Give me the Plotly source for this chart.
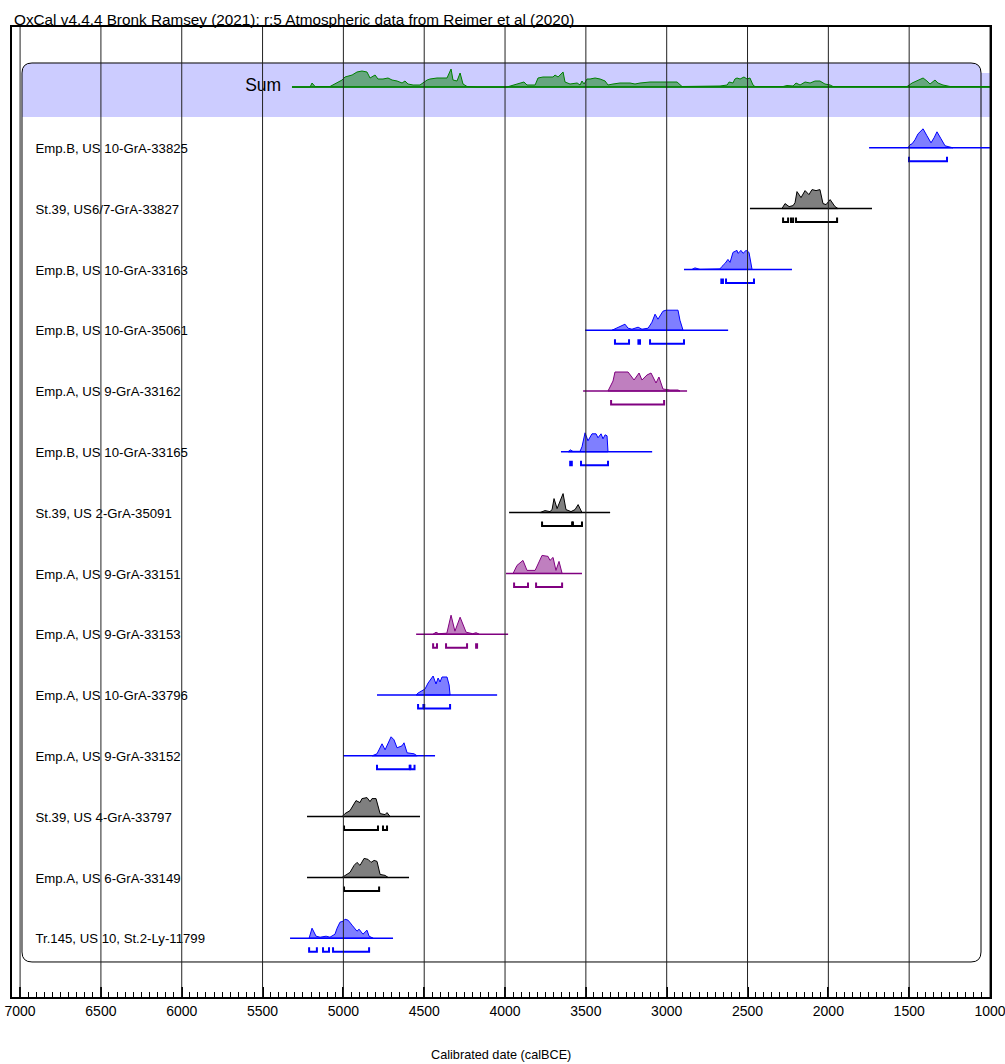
import plotly.graph_objects as go

# ---------------- text ----------------
TITLE = "OxCal v4.4.4 Bronk Ramsey (2021); r:5 Atmospheric data from Reimer et al (2020)"
X_TITLE = "Calibrated date (calBCE)"
TICKS = [7000, 6500, 6000, 5500, 5000, 4500, 4000, 3500, 3000, 2500, 2000, 1500, 1000]
TICK_TEXT = [str(t) for t in TICKS]

LABELS = [
    "Emp.B, US 10-GrA-33825", "St.39, US6/7-GrA-33827", "Emp.B, US 10-GrA-33163",
    "Emp.B, US 10-GrA-35061", "Emp.A, US 9-GrA-33162", "Emp.B, US 10-GrA-33165",
    "St.39, US 2-GrA-35091", "Emp.A, US 9-GrA-33151", "Emp.A, US 9-GrA-33153",
    "Emp.A, US 10-GrA-33796", "Emp.A, US 9-GrA-33152", "St.39, US 4-GrA-33797",
    "Emp.A, US 6-GrA-33149", "Tr.145, US 10, St.2-Ly-11799",
]
COLOR_KEYS = ["blue", "black", "blue", "blue", "purple", "blue", "black",
              "purple", "purple", "blue", "blue", "black", "black", "blue"]

# ---------------- data (calBCE years, relative probability) ----------------
sum_years = [5318, 5206, 5194, 5175, 5083, 5033, 5008, 4990, 4946, 4916, 4885, 4854, 4835, 4804, 4786,
             4755, 4724, 4699, 4668, 4637, 4619, 4600, 4569, 4526, 4507, 4482, 4464, 4421, 4359, 4334,
             4322, 4297, 4278, 4260, 4235, 4173, 3988, 3950, 3907, 3883, 3864, 3814, 3796, 3765, 3703,
             3691, 3672, 3641, 3629, 3598, 3554, 3536, 3524, 3511, 3493, 3474, 3443, 3412, 3381, 3363,
             3332, 3289, 3227, 3196, 3165, 3103, 3041, 2936, 2905, 2750, 2670, 2626, 2614, 2590, 2578,
             2565, 2546, 2522, 2503, 2485, 2466, 2454, 2280, 2256, 2218, 2200, 2175, 2144, 2113, 2082,
             2052, 2021, 1989, 1971, 1513, 1482, 1451, 1414, 1390, 1371, 1340, 1322, 1291, 1247, 1000]
sum_prob = [0, 0, 4, 0.5, 0.5, 5, 7, 10, 12, 15, 16, 15, 9, 12, 8,
            8, 9, 7, 6, 4, 6, 3, 2, 2, 4, 7, 8, 9, 9, 18,
            7, 6, 14, 3, 0.5, 0, 0, 2, 4, 5, 2, 2, 9, 10, 10,
            12, 10, 15, 5, 3, 4, 2, 6, 3, 8, 8, 9, 8, 6, 2,
            3, 4, 4, 3, 4, 5, 5, 5, 0.5, 0.5, 1, 2, 5, 4, 8,
            9, 8, 10, 8, 9, 2, 0.5, 0.5, 1.5, 1, 4, 2, 5, 4, 6,
            6, 3, 2, 0.5, 0.5, 4, 6, 9, 6, 3, 7, 4, 2, 0.5, 0.5]
sum_span = [5318, 1000]

r1_years = [1507, 1495, 1482, 1464, 1445, 1414, 1390, 1365, 1346, 1328, 1303, 1278, 1254, 1229]
r1_prob = [0, 3, 4, 8, 14, 19, 12, 5, 10, 16, 9, 2, 1, 0]
r1_span = [1748, 1000]
r1_hpd = [[1501, 1266]]

r2_years = [2287, 2268, 2243, 2218, 2206, 2194, 2169, 2144, 2120, 2101, 2076, 2052, 2033, 2014, 1989, 1959, 1940]
r2_prob = [0, 5, 2, 3, 6, 17, 11, 18, 14, 19, 18, 19, 5, 4, 9, 2, 0]
r2_span = [2485, 1730]
r2_hpd = [[2280, 2249], [2231, 2218], [2200, 1946]]

r3_years = [2843, 2825, 2794, 2700, 2670, 2658, 2639, 2621, 2608, 2590, 2565, 2559, 2540, 2528, 2509, 2491, 2472]
r3_prob = [0, 1.5, 0, 0.5, 0.5, 3, 6, 10, 7, 17, 19, 16, 19, 16, 19, 17, 0]
r3_span = [2893, 2225]
r3_hpd = [[2662, 2652], [2633, 2460]]

r4_years = [3338, 3301, 3258, 3239, 3215, 3177, 3153, 3115, 3091, 3072, 3054, 3023, 3004, 2967, 2930, 2918, 2899]
r4_prob = [0, 3, 6, 2, 1, 3, 1, 2, 8, 16, 11, 19, 20, 20, 20, 10, 0]
r4_span = [3505, 2620]
r4_hpd = [[3320, 3233], [3175, 3165], [3103, 2893]]

r5_years = [3363, 3332, 3320, 3239, 3202, 3171, 3153, 3122, 3097, 3066, 3048, 3023, 2980, 2930, 2918]
r5_prob = [0, 10, 19, 19, 11, 18, 11, 16, 18, 8, 14, 2, 1, 1, 0]
r5_span = [3517, 2874]
r5_hpd = [[3344, 3016]]

r6_years = [3610, 3598, 3580, 3536, 3524, 3505, 3487, 3462, 3437, 3425, 3406, 3394, 3381, 3369, 3363]
r6_prob = [0, 2, 0.5, 0.5, 5, 19, 11, 18, 18, 14, 18, 13, 17, 16, 0]
r6_span = [3654, 3090]
r6_hpd = [[3597, 3587], [3530, 3363]]

r7_years = [3784, 3753, 3722, 3709, 3697, 3678, 3641, 3623, 3592, 3567, 3548, 3524]
r7_prob = [0, 2, 1, 3, 14, 4, 19, 3, 1, 3, 8, 0]
r7_span = [3975, 3350]
r7_hpd = [[3771, 3585], [3580, 3524]]

r8_years = [3950, 3926, 3889, 3864, 3814, 3790, 3771, 3734, 3722, 3703, 3685, 3666, 3647]
r8_prob = [0, 8, 13, 3, 3, 12, 18, 17, 13, 16, 3, 12, 0]
r8_span = [3994, 3524]
r8_hpd = [[3944, 3858], [3808, 3647]]

r9_years = [4445, 4427, 4410, 4360, 4334, 4310, 4278, 4241, 4200, 4179, 4160]
r9_prob = [0, 2, 0.5, 1, 19, 3, 17, 2, 0.5, 1.5, 0]
r9_span = [4550, 3981]
r9_hpd = [[4445, 4421], [4365, 4235], [4179, 4173]]

r10_years = [4550, 4538, 4495, 4476, 4445, 4427, 4414, 4402, 4390, 4359, 4346, 4340]
r10_prob = [0, 2, 6, 12, 19, 11, 17, 13, 18, 18, 10, 0]
r10_span = [4792, 4049]
r10_hpd = [[4538, 4505], [4500, 4340]]

r11_years = [4822, 4792, 4761, 4742, 4705, 4687, 4668, 4637, 4625, 4606, 4563, 4544]
r11_prob = [0, 2, 12, 6, 19, 16, 8, 10, 13, 3, 2, 0]
r11_span = [5002, 4433]
r11_hpd = [[4792, 4590], [4585, 4560]]

r12_years = [5008, 4990, 4959, 4922, 4897, 4885, 4854, 4835, 4823, 4798, 4773, 4742, 4730, 4711]
r12_prob = [0, 3, 6, 16, 14, 18, 19, 15, 18, 18, 3, 2, 4, 0]
r12_span = [5225, 4526]
r12_hpd = [[4996, 4786], [4755, 4730]]

r13_years = [5008, 4983, 4959, 4934, 4916, 4897, 4872, 4847, 4829, 4810, 4792, 4773, 4742, 4724]
r13_prob = [0, 3, 5, 12, 15, 12, 19, 18, 15, 17, 16, 3, 2, 0]
r13_span = [5225, 4594]
r13_hpd = [[4996, 4779]]

r14_years = [5212, 5194, 5169, 5144, 5107, 5083, 5052, 5039, 5021, 5002, 4990, 4971, 4946, 4928, 4916,
             4903, 4879, 4854, 4841, 4816]
r14_prob = [0, 10, 2, 1, 2, 1, 4, 10, 16, 17, 19, 18, 13, 10, 7, 9, 4, 8, 2, 0]
r14_span = [5330, 4693]
r14_hpd = [[5212, 5164], [5126, 5089], [5064, 4841]]

ROWS = [
    (r1_years, r1_prob, r1_span, r1_hpd), (r2_years, r2_prob, r2_span, r2_hpd),
    (r3_years, r3_prob, r3_span, r3_hpd), (r4_years, r4_prob, r4_span, r4_hpd),
    (r5_years, r5_prob, r5_span, r5_hpd), (r6_years, r6_prob, r6_span, r6_hpd),
    (r7_years, r7_prob, r7_span, r7_hpd), (r8_years, r8_prob, r8_span, r8_hpd),
    (r9_years, r9_prob, r9_span, r9_hpd), (r10_years, r10_prob, r10_span, r10_hpd),
    (r11_years, r11_prob, r11_span, r11_hpd), (r12_years, r12_prob, r12_span, r12_hpd),
    (r13_years, r13_prob, r13_span, r13_hpd), (r14_years, r14_prob, r14_span, r14_hpd),
]

# ---------------- styling ----------------
PALETTE = {
    "blue": ("#0000ff", "rgba(0,0,255,0.5)"),
    "black": ("#000000", "rgba(0,0,0,0.5)"),
    "purple": ("#800080", "rgba(128,0,128,0.5)"),
    "green": ("#008000", "rgba(0,128,0,0.5)"),
}
FONT = "Liberation Sans, Arial, sans-serif"
ROW_PX = 60.8          # pixels per row
HPD_OFF = 13.5 / ROW_PX
HPD_TICK = 4.5 / ROW_PX
LABEL_X = 6905
LABEL_DY = 2.0 / ROW_PX

fig = go.Figure()


def add_dist(k, years, prob, span, color_key):
    line_c, fill_c = PALETTE[color_key]
    fig.add_trace(go.Scatter(x=span, y=[k, k], mode="lines",
                             line=dict(color=line_c, width=1.5), hoverinfo="skip"))
    xs = list(years) + [years[-1], years[0]]
    ys = [k - p / ROW_PX for p in prob] + [k, k]
    fig.add_trace(go.Scatter(x=xs, y=ys, mode="lines", fill="toself", fillcolor=fill_c,
                             line=dict(color=line_c, width=1), hoverinfo="skip"))


def add_hpd(k, hpd, color_key):
    line_c, _ = PALETTE[color_key]
    for a, b in hpd:
        yb = k + HPD_OFF
        fig.add_trace(go.Scatter(x=[a, a, b, b], y=[yb - HPD_TICK, yb, yb, yb - HPD_TICK],
                                 mode="lines", line=dict(color=line_c, width=2),
                                 hoverinfo="skip"))


# Sum row (row 0)
add_dist(0, sum_years, sum_prob, sum_span, "green")
fig.add_trace(go.Scatter(x=[5385], y=[-0.03 + LABEL_DY / 2], mode="text", text=["Sum"],
                         textposition="middle left",
                         textfont=dict(size=17.5, color="black", family=FONT), hoverinfo="skip"))

for i, (yrs, pr, sp, hp) in enumerate(ROWS):
    k = i + 1
    add_dist(k, yrs, pr, sp, COLOR_KEYS[i])
    add_hpd(k, hp, COLOR_KEYS[i])

fig.add_trace(go.Scatter(x=[LABEL_X] * len(LABELS),
                         y=[k + LABEL_DY for k in range(1, len(LABELS) + 1)],
                         mode="text", text=LABELS, textposition="middle right",
                         textfont=dict(size=13.2, color="black", family=FONT), hoverinfo="skip"))

# ---------------- shapes ----------------
x0, x1 = 0.01022, 0.99080
y0, y1 = 0.0361, 0.9629
rx, ry = 0.0102, 0.0103
band_bot = 0.9072
band_path = (f"M {x0},{band_bot} L {x0},{y1-ry} Q {x0},{y1} {x0+rx},{y1} L {x1-rx},{y1} "
             f"Q {x1},{y1} {x1},{y1-ry} L {x1},{band_bot} Z")
shapes = [
    dict(type="path", path=band_path, xref="paper", yref="paper",
         fillcolor="#ccccff", line=dict(width=0), layer="below"),
    dict(type="rect", xref="paper", yref="paper", x0=x1, x1=1.0, y0=band_bot, y1=y1 - ry,
         fillcolor="#ccccff", line=dict(width=0), layer="below"),
]
box_path = (f"M {x0+rx},{y1} L {x1-rx},{y1} Q {x1},{y1} {x1},{y1-ry} L {x1},{y0+ry} "
            f"Q {x1},{y0} {x1-rx},{y0} L {x0+rx},{y0} Q {x0},{y0} {x0},{y0+ry} "
            f"L {x0},{y1-ry} Q {x0},{y1} {x0+rx},{y1} Z")
shapes.append(dict(type="path", path=box_path, xref="paper", yref="paper",
                   line=dict(color="black", width=1), layer="below"))
for t in TICKS:
    shapes.append(dict(type="line", x0=t, x1=t, y0=0, y1=1, xref="x", yref="paper",
                       line=dict(color="#222222", width=1), layer="above"))

fig.update_layout(
    width=1005, height=1064, autosize=False,
    margin=dict(l=12, r=15, t=27, b=67),
    paper_bgcolor="white", plot_bgcolor="white",
    showlegend=False,
    shapes=shapes,
    font=dict(family=FONT, color="black"),
    xaxis=dict(range=[7050, 1000], tickmode="array", tickvals=TICKS, ticktext=TICK_TEXT,
               ticks="inside", ticklen=10, tickwidth=2, tickcolor="black",
               tickfont=dict(size=14, family=FONT, color="black"),
               ticklabeloverflow="allow",
               showgrid=False, zeroline=False, showline=True, linewidth=2,
               linecolor="black", mirror=True, automargin=False,
               minor=dict(dtick=50, tick0=0, ticks="inside", ticklen=5, tickwidth=1,
                          tickcolor="black", showgrid=False)),
    yaxis=dict(range=[(997 - 87) / ROW_PX, (27 - 87) / ROW_PX], showgrid=False,
               zeroline=False, showticklabels=False, ticks="", showline=True,
               linewidth=2, linecolor="black", mirror=True, automargin=False),
    annotations=[
        dict(text=TITLE, x=0.0, y=(997 - 19.5) / 970, xref="paper", yref="paper",
             xanchor="left", yanchor="middle", showarrow=False,
             font=dict(size=15.3, family=FONT, color="black")),
        dict(text=X_TITLE, x=(501 - 12) / 978, y=(997 - 1055) / 970, xref="paper",
             yref="paper", xanchor="center", yanchor="middle", showarrow=False,
             font=dict(size=12.7, family=FONT, color="black")),
    ],
)

fig.write_html(
    "out.html",
    config={"responsive": False, "displayModeBar": False},
    post_script="document.body.style.margin='0';document.body.style.overflow='hidden';",
)
